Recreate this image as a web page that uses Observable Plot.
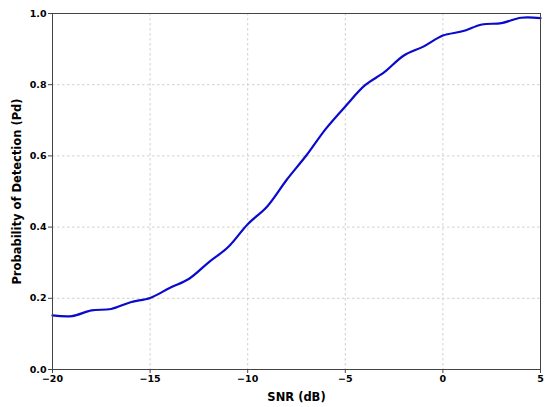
<!DOCTYPE html>
<html>
<head>
<meta charset="utf-8">
<script src="https://cdn.jsdelivr.net/npm/d3@7"></script>
<script src="https://cdn.jsdelivr.net/npm/@observablehq/plot@0.6"></script>
<style>
  html, body { margin: 0; padding: 0; background: #fff; }
  #chart svg text { font-family: "DejaVu Sans", sans-serif; font-weight: bold; }
</style>
</head>
<body>
<div id="chart"></div>
<script>
const snr = [-20, -19, -18, -17, -16, -15, -14, -13, -12, -11, -10, -9, -8, -7, -6, -5, -4, -3, -2, -1, 0, 1, 2, 3, 4, 5];
const pd = [0.152, 0.150, 0.166, 0.170, 0.189, 0.201, 0.229, 0.255, 0.301, 0.344, 0.408, 0.458, 0.533, 0.601, 0.676, 0.739, 0.798, 0.835, 0.882, 0.907, 0.938, 0.950, 0.969, 0.973, 0.988, 0.987];
const xTicks = [-20, -15, -10, -5, 0, 5];
const yTicks = [0, 0.2, 0.4, 0.6, 0.8, 1.0];

const data = snr.map((s, i) => ({snr: s, pd: pd[i]}));

const chart = Plot.plot({
  width: 550,
  height: 407,
  marginLeft: 52,
  marginRight: 10,
  marginTop: 13,
  marginBottom: 38,
  style: {fontSize: "9.5px", background: "#fff"},
  x: {domain: [-20, 5], ticks: xTicks},
  y: {domain: [0, 1], ticks: yTicks},
  marks: [
    Plot.gridX(xTicks, {stroke: "#c4c4c4", strokeOpacity: 1, strokeDasharray: "2.5,2.5", strokeWidth: 0.8}),
    Plot.gridY(yTicks, {stroke: "#c4c4c4", strokeOpacity: 1, strokeDasharray: "2.5,2.5", strokeWidth: 0.8}),
    Plot.line(data, {x: "snr", y: "pd", stroke: "#0a0acc", strokeWidth: 2.2, curve: "catmull-rom"}),
    Plot.frame({stroke: "#444", strokeWidth: 1}),
    Plot.axisX(xTicks, {tickSize: 4, tickPadding: 2, fontSize: 9.5, fontWeight: "bold", stroke: "#444",
      tickFormat: d => d3.format("")(d).replace("-", "\u2212"),
      label: "SNR (dB)", labelAnchor: "center", labelArrow: "none", labelOffset: 31}),
    Plot.axisY(yTicks, {tickSize: 4, tickPadding: 2, fontSize: 9.5, fontWeight: "bold", stroke: "#444",
      tickFormat: d3.format(".1f"),
      label: "Probability of Detection (Pd)", labelAnchor: "center", labelArrow: "none", labelOffset: 40})
  ]
});
document.getElementById("chart").appendChild(chart);
chart.querySelectorAll("g[aria-label='x-axis label'] text, g[aria-label='y-axis label'] text").forEach(t => t.setAttribute("font-size", "11.5"));
</script>
</body>
</html>
